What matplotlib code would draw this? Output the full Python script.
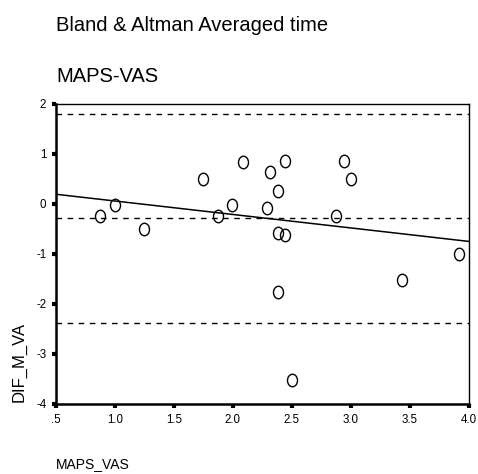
import matplotlib.pyplot as plt
from matplotlib.path import Path
from matplotlib.transforms import Affine2D
import numpy as np

# averages (x) and differences (y)
maps_vas = [0.876, 1.0, 1.249, 1.747, 1.871, 1.996, 2.083, 2.442, 2.318, 2.38,
            2.293, 2.38, 2.443, 2.943, 3.005, 2.877, 3.921, 3.437, 2.38, 2.504]
dif_m_va = [-0.25, -0.02, -0.51, 0.49, -0.25, -0.02, 0.83, 0.86, 0.63, 0.25,
            -0.09, -0.58, -0.63, 0.86, 0.49, -0.25, -1.0, -1.53, -1.77, -3.53]

mean_diff = -0.29
upper_loa = 1.79
lower_loa = -2.38
fit_intercept = 0.325
fit_slope = -0.269

x_ticks = [0.5, 1.0, 1.5, 2.0, 2.5, 3.0, 3.5, 4.0]
x_ticklabels = ['.5', '1.0', '1.5', '2.0', '2.5', '3.0', '3.5', '4.0']
y_ticks = [-4, -3, -2, -1, 0, 1, 2]

plt.rcParams['font.family'] = ['Liberation Sans', 'DejaVu Sans']
plt.rcParams['axes.unicode_minus'] = False

fig = plt.figure(figsize=(4.78, 4.74), dpi=100)
ax = fig.add_axes([0.1172, 0.1477, 0.8633, 0.6335])

# slightly tall open circles like the original
oval = Path.unit_circle().transformed(Affine2D().scale(0.8, 1.0))
ax.plot(maps_vas, dif_m_va, linestyle='none', marker=oval, markersize=9,
        markerfacecolor='none', markeredgecolor='black', markeredgewidth=1)

for yv in [upper_loa, mean_diff, lower_loa]:
    ax.axhline(yv, color='black', linestyle=(0, (4, 4)), linewidth=1)

xs = np.array([0.5, 4.0])
ax.plot(xs, fit_intercept + fit_slope * xs, color='black', linewidth=1.1)

ax.set_xlim(0.5, 4.0)
ax.set_ylim(-4, 2)
ax.set_xticks(x_ticks, x_ticklabels)
ax.set_yticks(y_ticks)
ax.tick_params(direction='out', length=3, width=3, labelsize=8.3, pad=4)

for side in ['left', 'bottom']:
    ax.spines[side].set_linewidth(1.8)
for side in ['top', 'right']:
    ax.spines[side].set_linewidth(1.0)

fig.text(56 / 478, 1 - 31 / 474, 'Bland & Altman Averaged time', fontsize=14.5,
         ha='left', va='baseline')
fig.text(56 / 478, 1 - 82 / 474, 'MAPS-VAS', fontsize=14.5, ha='left', va='baseline')
fig.text(56 / 478, 1 - 468 / 474, 'MAPS_VAS', fontsize=10, ha='left', va='baseline')
fig.text(19 / 478, 1 - 402 / 474, 'DIF_M_VA', fontsize=12, rotation=90,
         ha='center', va='bottom')

fig.savefig('out.png', dpi=100)
